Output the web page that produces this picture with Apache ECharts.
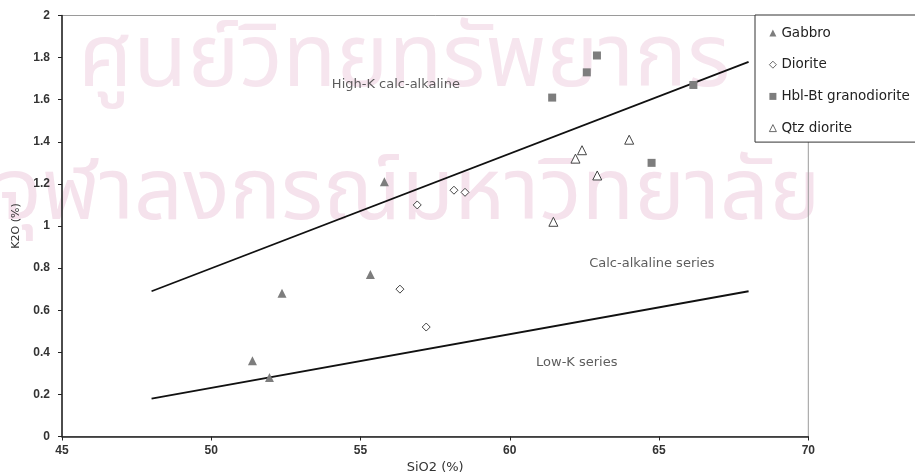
<!DOCTYPE html>
<html>
<head>
<meta charset="utf-8">
<script src="https://cdn.jsdelivr.net/npm/echarts@6/dist/echarts.min.js"></script>
<style>html,body{margin:0;padding:0;background:#fff}#c{width:915px;height:475px}</style>
</head>
<body>
<div id="c"></div>
<script>
// ---- data ----
const xTicks = [45, 50, 55, 60, 65, 70];
const yTicks = [0, 0.2, 0.4, 0.6, 0.8, 1, 1.2, 1.4, 1.6, 1.8, 2];
const gabbro = [[51.38, 0.36], [51.95, 0.28], [52.37, 0.68], [55.33, 0.77], [55.80, 1.21]];
const diorite = [[56.32, 0.70], [57.20, 0.52], [56.90, 1.10], [58.13, 1.17], [58.50, 1.16]];
const hblBt = [[61.42, 1.61], [62.58, 1.73], [62.92, 1.81], [66.15, 1.67], [64.75, 1.30]];
const qtzDiorite = [[61.46, 1.02], [62.20, 1.32], [62.42, 1.36], [62.93, 1.24], [64.00, 1.41]];
const highKLine = [[48, 0.69], [68, 1.78]];
const lowKLine = [[48, 0.18], [68, 0.69]];
const regionLabels = [
  {name: 'High-K calc-alkaline', value: [54.04, 1.67]},
  {name: 'Calc-alkaline series', value: [62.66, 0.82]},
  {name: 'Low-K series', value: [60.88, 0.35]}
];
const watermark = ['ศูนย์วิทยทรัพยากร', 'จุฬาลงกรณ์มหาวิทยาลัย'];

const chart = echarts.init(document.getElementById('c'));
const FONT = '"Liberation Sans", Arial, sans-serif';
const DV = '"DejaVu Sans", sans-serif';
const gray = '#7d7d7d';
const dark = '#444';
const THAI = '"Noto Sans Thai", "Noto Sans", "Loma", "Garuda", sans-serif';

chart.setOption({
  animation: false,
  backgroundColor: '#fff',
  graphic: [
    {type: 'text', left: 78, top: 24, z: -10, silent: true,
     style: {text: watermark[0], font: '88px ' + THAI, fill: '#f6e5ee'}},
    {type: 'text', left: -4, top: 159, z: -10, silent: true,
     style: {text: watermark[1], font: '86px ' + THAI, fill: '#f5e2ec'}}
  ],
  grid: {left: 62, right: 106.7, top: 15.5, bottom: 38.5, show: true, borderColor: '#9a9a9a', borderWidth: 1,
    backgroundColor: 'transparent', containLabel: false, outerBoundsMode: 'none'},
  legend: {
    orient: 'vertical', left: 755, top: 15,
    padding: [10, 40, 6, 14],
    backgroundColor: '#fff',
    borderColor: '#333', borderWidth: 1,
    itemWidth: 7, itemHeight: 7, itemGap: 15.7,
    itemStyle: {borderWidth: 0.8},
    textStyle: {fontFamily: DV, fontSize: 13.5, lineHeight: 16, color: '#222'},
    data: ['Gabbro', 'Diorite', 'Hbl-Bt granodiorite', 'Qtz diorite']
  },
  xAxis: {
    type: 'value', min: 45, max: 70, interval: 5,
    name: 'SiO2 (%)', nameLocation: 'middle', nameGap: 24,
    nameTextStyle: {fontFamily: DV, fontSize: 13, color: '#333'},
    axisLine: {show: true, onZero: false, lineStyle: {color: '#222', width: 1.5}},
    axisTick: {show: true, length: 4, lineStyle: {color: '#222'}},
    axisLabel: {fontFamily: FONT, fontSize: 12, fontWeight: 'bold', color: '#333', margin: 8},
    splitLine: {show: false}
  },
  yAxis: {
    type: 'value', min: 0, max: 2, interval: 0.2,
    name: 'K2O (%)', nameLocation: 'middle', nameGap: 40,
    nameTextStyle: {fontFamily: DV, fontSize: 11, color: '#333'},
    axisLine: {show: true, onZero: false, lineStyle: {color: '#222', width: 1.5}},
    axisTick: {show: true, length: 4, lineStyle: {color: '#222'}},
    axisLabel: {fontFamily: FONT, fontSize: 12, fontWeight: 'bold', color: '#333', margin: 12,
      formatter: v => String(parseFloat(v.toFixed(1)))},
    splitLine: {show: false}
  },
  series: [
    {type: 'line', data: highKLine, symbol: 'none', lineStyle: {color: '#111', width: 1.8}, silent: true, z: 1},
    {type: 'line', data: lowKLine, symbol: 'none', lineStyle: {color: '#111', width: 1.8}, silent: true, z: 1},
    {name: 'Gabbro', type: 'scatter', data: gabbro, symbol: 'triangle', symbolSize: 9,
     itemStyle: {color: gray, opacity: 1}, z: 3},
    {name: 'Diorite', type: 'scatter', data: diorite, symbol: 'diamond', symbolSize: 8,
     itemStyle: {color: '#fff', borderColor: dark, borderWidth: 1, opacity: 1}, z: 3},
    {name: 'Hbl-Bt granodiorite', type: 'scatter', data: hblBt, symbol: 'rect', symbolSize: 8,
     itemStyle: {color: gray, opacity: 1}, z: 3},
    {name: 'Qtz diorite', type: 'scatter', data: qtzDiorite, symbol: 'triangle', symbolSize: 9,
     itemStyle: {color: '#fff', borderColor: dark, borderWidth: 1, opacity: 1}, z: 3},
    {type: 'scatter', data: regionLabels, symbolSize: 0, silent: true, z: 2,
     label: {show: true, position: 'right', distance: 0, formatter: p => p.name,
       fontFamily: DV, fontSize: 13, color: '#333'}}
  ]
});
</script>
</body>
</html>
